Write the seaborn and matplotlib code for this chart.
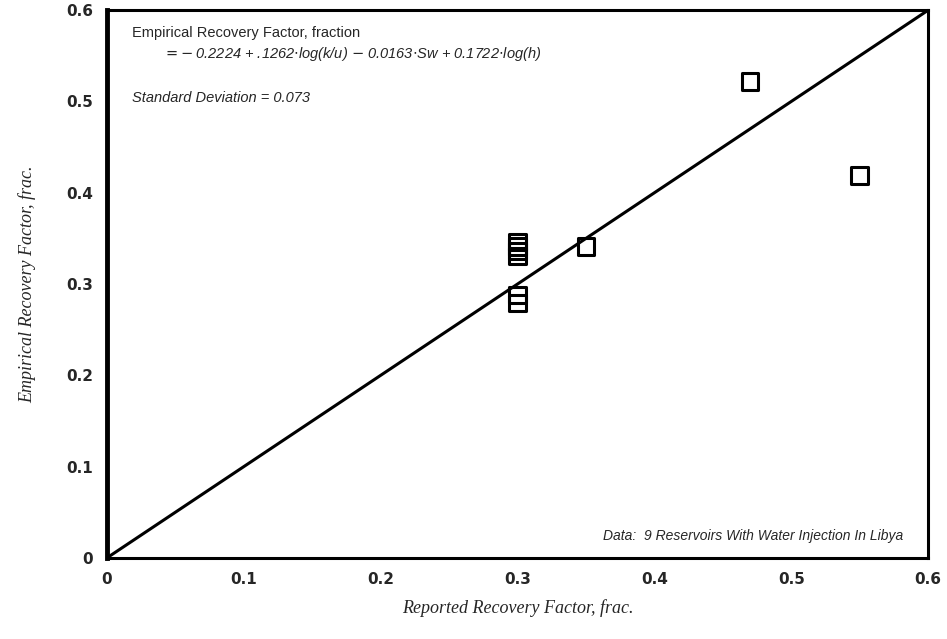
import numpy as np
import pandas as pd
import seaborn as sns
import matplotlib.pyplot as plt
from matplotlib.ticker import MultipleLocator

# reported vs empirical recovery factor, 9 reservoirs
reported = [0.30, 0.30, 0.30, 0.30, 0.30, 0.30, 0.35, 0.47, 0.55]
empirical = [0.346, 0.341, 0.336, 0.331, 0.288, 0.279, 0.341, 0.522, 0.419]
unit_line = [0.0, 0.6]
tick_vals = [0, 0.1, 0.2, 0.3, 0.4, 0.5, 0.6]
tick_labels = ["0", "0.1", "0.2", "0.3", "0.4", "0.5", "0.6"]

sns.set_style("white")
plt.rcParams['font.family'] = ['Liberation Sans', 'DejaVu Sans']

df = pd.DataFrame({"reported": reported, "empirical": empirical})

fig = plt.figure(figsize=(9.47, 6.39), dpi=100)
ax = fig.add_axes([0.113, 0.127, 0.867, 0.857])

sns.lineplot(x=unit_line, y=unit_line, color="black", linewidth=2.2, ax=ax)
sns.scatterplot(data=df, x="reported", y="empirical", marker="s", s=140,
                facecolors="none", edgecolor="black", linewidth=2.2, ax=ax, zorder=3)

ax.set_xlim(0, 0.6)
ax.set_ylim(0, 0.6)
ax.set_xticks(tick_vals)
ax.set_yticks(tick_vals)
ax.set_xticklabels(tick_labels, fontweight="bold", fontsize=11, family="DejaVu Sans")
ax.set_yticklabels(tick_labels, fontweight="bold", fontsize=11, family="DejaVu Sans")
ax.xaxis.set_minor_locator(MultipleLocator(0.05))
ax.yaxis.set_minor_locator(MultipleLocator(0.05))
ax.tick_params(which="major", direction="in", length=9, width=2, color="black",
               top=False, right=False, pad=10)
ax.tick_params(which="minor", direction="in", length=5, width=1.5, color="black",
               top=False, right=False)

for side in ["top", "right", "bottom"]:
    ax.spines[side].set_linewidth(2.2)
    ax.spines[side].set_color("black")
ax.spines["left"].set_linewidth(3.5)
ax.spines["left"].set_color("black")

ax.set_xlabel("Reported Recovery Factor, frac.", family="Liberation Serif",
              style="italic", fontsize=13)
ax.set_ylabel("Empirical Recovery Factor, frac.", family="Liberation Serif",
              style="italic", fontsize=13)
ax.xaxis.set_label_coords(0.5, -0.075)
ax.yaxis.set_label_coords(-0.086, 0.5)

ax.text(0.03, 0.958, "Empirical Recovery Factor, fraction", transform=ax.transAxes,
        fontsize=10.5, va="center", ha="left")
ax.text(0.068, 0.92, r"$= -\,$0.2224 + .1262$\cdot$log(k/u) $-$ 0.0163$\cdot$Sw + 0.1722$\cdot$log(h)",
        transform=ax.transAxes, fontsize=10.5, style="italic", va="center", ha="left")
ax.text(0.03, 0.84, "Standard Deviation = 0.073", transform=ax.transAxes,
        fontsize=10.5, style="italic", va="center", ha="left")
ax.text(0.97, 0.04, "Data:  9 Reservoirs With Water Injection In Libya", transform=ax.transAxes,
        fontsize=10, style="italic", va="center", ha="right")

fig.savefig("out.png", dpi=100)
